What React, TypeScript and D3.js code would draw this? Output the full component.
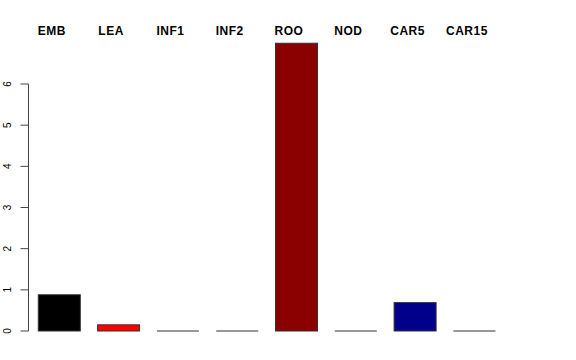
import React from "react";
import * as d3 from "d3";

const categories = ["EMB", "LEA", "INF1", "INF2", "ROO", "NOD", "CAR5", "CAR15"];
const values = [0.88, 0.15, 0, 0, 6.99, 0, 0.69, 0];
const colors = ["#000000", "#ff0000", "#ffffff", "#ffffff", "#8b0000", "#ffffff", "#00008b", "#ffffff"];
const yTicks = [0, 1, 2, 3, 4, 5, 6];

export default function App() {
  const W = 576, H = 360;
  const x = d3.scaleBand<string>().domain(categories).range([28.5, 505.2]).paddingInner(0.2917).paddingOuter(0.165);
  const y = d3.scaleLinear().domain([0, 6]).range([331, 84]);
  return (
    <svg width={W} height={H} style={{ position: "absolute", left: 0, top: 0, background: "#fff" }}>
      {categories.map((c, i) => {
        const x0 = x(c) as number;
        const h = y(0) - y(values[i]);
        return h > 0.5 ? (
          <rect key={c} x={x0} y={y(values[i])} width={x.bandwidth()} height={h}
            fill={colors[i]} stroke="#333" strokeWidth={1} />
        ) : (
          <line key={c} x1={x0} x2={x0 + x.bandwidth()} y1={y(0)} y2={y(0)} stroke="#333" strokeWidth={1.2} />
        );
      })}
      {categories.map((c) => (
        <text key={c} x={(x(c) as number) + x.bandwidth() / 2 - 7.5} y={35} textAnchor="middle"
          fontFamily="Liberation Sans, Arial, sans-serif" fontWeight="bold" fontSize={12} letterSpacing={0.5}>{c}</text>
      ))}
      <line x1={28.5} x2={28.5} y1={y(0)} y2={y(6)} stroke="#444" strokeWidth={1} />
      {yTicks.map((t) => (
        <g key={t}>
          <line x1={20.5} x2={28.5} y1={y(t)} y2={y(t)} stroke="#444" strokeWidth={1} />
          <text transform={`translate(10.5,${y(t)}) rotate(-90)`} textAnchor="middle"
            fontFamily="Liberation Sans, Arial, sans-serif" fontSize={10}>{t}</text>
        </g>
      ))}
    </svg>
  );
}
